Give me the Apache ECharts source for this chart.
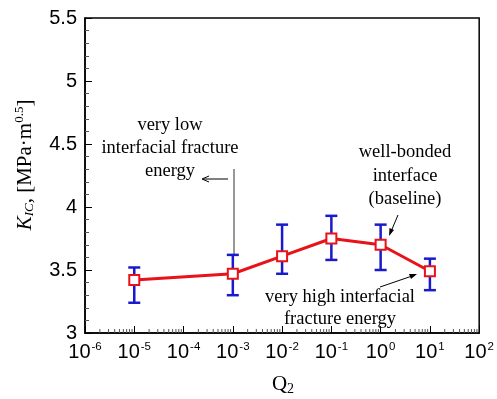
<!DOCTYPE html>
<html>
<head>
<meta charset="utf-8">
<script src="https://cdn.jsdelivr.net/npm/echarts@6/dist/echarts.min.js"></script>
<style>
  html, body { margin: 0; padding: 0; background: #fff; }
  #chart { width: 497px; height: 399px; }
</style>
</head>
<body>
<div id="chart"></div>
<script>
// Normalised interface energy Q2 and the fracture toughness it gives
const q2 = [1e-5, 1e-3, 1e-2, 1e-1, 1, 10];
const kic = [3.42, 3.47, 3.61, 3.75, 3.70, 3.49];
const kicLow = [3.24, 3.30, 3.47, 3.58, 3.50, 3.34];
const kicHigh = [3.52, 3.62, 3.86, 3.93, 3.86, 3.59];
// Decade exponents shown on the horizontal axis
const xDecades = [-6, -5, -4, -3, -2, -1, 0, 1, 2];

const logX = q2.map(v => Math.log10(v));
const lineData = logX.map((x, i) => [x, kic[i]]);
const barData = logX.map((x, i) => [x, kicLow[i], kicHigh[i]]);

// Minor ticks at 2..9 inside each decade
const minorX = [];
for (let n = xDecades[0]; n < xDecades[xDecades.length - 1]; n++) {
  for (let k = 2; k <= 9; k++) minorX.push([n + Math.log10(k), 3]);
}

const serif = '"Liberation Serif", "Times New Roman", serif';
const sans = '"Liberation Sans", Arial, sans-serif';
const blue = '#1a1acc';
const red = '#e8121a';

const chart = echarts.init(document.getElementById('chart'));
chart.setOption({
  animation: false,
  grid: { left: 85, right: 16, top: 18, bottom: 66, show: true,
          borderColor: '#000', borderWidth: 1.5, backgroundColor: 'transparent' },
  xAxis: {
    type: 'value', min: -6, max: 2, interval: 1,
    axisLine: { onZero: false, lineStyle: { color: '#000', width: 1.5 } },
    axisTick: { inside: true, length: 7, lineStyle: { color: '#000', width: 1 } },
    splitLine: { show: false },
    axisLabel: {
      margin: 8, color: '#000',
      formatter: v => '{b|10}{s|' + Math.round(v) + '}',
      rich: {
        b: { fontFamily: sans, fontSize: 20, color: '#000' },
        s: { fontFamily: sans, fontSize: 11.5, color: '#000', verticalAlign: 'top', padding: [0, 0, 11, 1] }
      }
    }
  },
  yAxis: {
    type: 'value', min: 3, max: 5.5, interval: 0.5,
    axisLine: { show: true, onZero: false, lineStyle: { color: '#000', width: 1.5 } },
    axisTick: { show: true, inside: true, length: 7, lineStyle: { color: '#000', width: 1 } },
    minorTick: { show: true, splitNumber: 5, length: 4, lineStyle: { color: '#555', width: 1 } },
    splitLine: { show: false },
    axisLabel: { fontFamily: sans, fontSize: 20, color: '#000', margin: 8,
                 formatter: v => String(v) }
  },
  series: [
    {
      // minor ticks of the logarithmic axis
      type: 'custom', data: minorX, silent: true, clip: false, z: 1,
      renderItem: (params, api) => {
        const p = api.coord([api.value(0), 3]);
        return { type: 'line', shape: { x1: p[0], y1: p[1], x2: p[0], y2: p[1] - 4 },
                 style: { stroke: '#555', lineWidth: 1 } };
      }
    },
    {
      // error bars
      type: 'custom', data: barData, silent: true, z: 2,
      renderItem: (params, api) => {
        const lo = api.coord([api.value(0), api.value(1)]);
        const hi = api.coord([api.value(0), api.value(2)]);
        const w = 6;
        const st = { stroke: blue, lineWidth: 2.5 };
        return { type: 'group', children: [
          { type: 'line', shape: { x1: lo[0], y1: lo[1], x2: hi[0], y2: hi[1] }, style: st },
          { type: 'line', shape: { x1: lo[0] - w, y1: lo[1], x2: lo[0] + w, y2: lo[1] }, style: st },
          { type: 'line', shape: { x1: hi[0] - w, y1: hi[1], x2: hi[0] + w, y2: hi[1] }, style: st }
        ] };
      }
    },
    {
      type: 'line', data: lineData, z: 3,
      lineStyle: { color: red, width: 3 },
      symbol: 'rect', symbolSize: 10, showSymbol: true,
      itemStyle: { color: '#fff', borderColor: red, borderWidth: 2 }
    }
  ],
  graphic: [
    // vertical axis title
    { type: 'text', x: 25, y: 165, rotation: Math.PI / 2,
      style: { text: '{i|K}{sub|IC}{r|, [MPa·m}{sup|0.5}{r|]}', align: 'center', verticalAlign: 'middle',
        rich: {
          i: { fontFamily: serif, fontSize: 21, fontStyle: 'italic', fill: '#000' },
          sub: { fontFamily: serif, fontSize: 13, fontStyle: 'italic', fill: '#000', verticalAlign: 'bottom', padding: [7, 0, 0, 0] },
          r: { fontFamily: serif, fontSize: 21, fill: '#000' },
          sup: { fontFamily: serif, fontSize: 13, fill: '#000', verticalAlign: 'top', padding: [0, 0, 10, 0] }
        } } },
    // horizontal axis title
    { type: 'text', x: 283, y: 384,
      style: { text: '{q|Q}{sub|2}', align: 'center', verticalAlign: 'middle',
        rich: {
          q: { fontFamily: serif, fontSize: 21, fill: '#000' },
          sub: { fontFamily: serif, fontSize: 14, fill: '#000', verticalAlign: 'bottom', padding: [11, 0, 0, 0] }
        } } },
    // low energy note
    { type: 'text', x: 170, y: 148,
      style: { text: 'very low\ninterfacial fracture\nenergy', align: 'center', verticalAlign: 'middle',
               fontFamily: serif, fontSize: 18.5, lineHeight: 23, fill: '#000' } },
    { type: 'line', shape: { x1: 234, y1: 169, x2: 234, y2: 256 }, style: { stroke: '#333', lineWidth: 1 } },
    { type: 'line', shape: { x1: 228, y1: 179, x2: 203, y2: 179 }, style: { stroke: '#000', lineWidth: 1 } },
    { type: 'polyline', shape: { points: [[209, 176], [202, 179], [209, 182]] }, style: { stroke: '#000', lineWidth: 1, fill: null } },
    // baseline note
    { type: 'text', x: 405, y: 176,
      style: { text: 'well-bonded\ninterface\n(baseline)', align: 'center', verticalAlign: 'middle',
               fontFamily: serif, fontSize: 18.5, lineHeight: 23.5, fill: '#000' } },
    { type: 'line', shape: { x1: 398, y1: 215, x2: 390, y2: 234 }, style: { stroke: '#000', lineWidth: 1 } },
    { type: 'polygon', shape: { points: [[389, 236], [389.5, 228], [394, 230]] }, style: { fill: '#000' } },
    // high energy note
    { type: 'text', x: 340, y: 308,
      style: { text: 'very high interfacial\nfracture energy', align: 'center', verticalAlign: 'middle',
               fontFamily: serif, fontSize: 18.5, lineHeight: 22, fill: '#000' } },
    { type: 'line', shape: { x1: 380, y1: 287, x2: 415, y2: 275 }, style: { stroke: '#000', lineWidth: 1 } },
    { type: 'polygon', shape: { points: [[417, 274], [409, 274], [411, 279]] }, style: { fill: '#000' } }
  ]
});
</script>
</body>
</html>
